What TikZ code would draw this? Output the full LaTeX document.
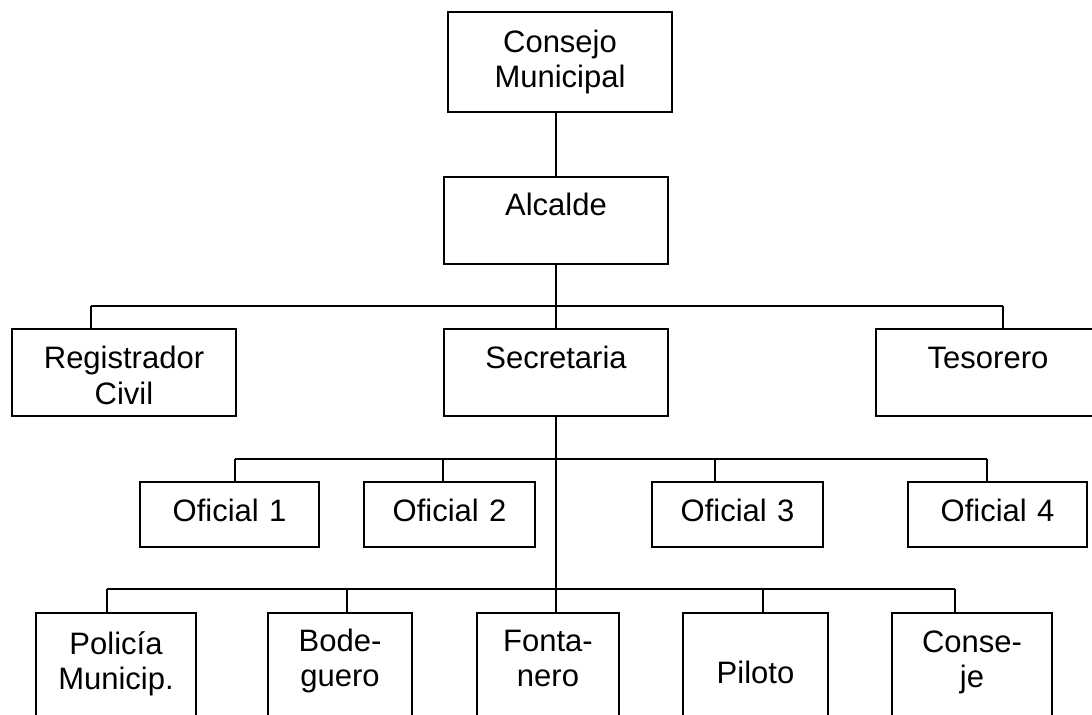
\documentclass[tikz,border=0pt]{standalone}
\usepackage{fontspec}
\setmainfont{Liberation Sans}
\usetikzlibrary{positioning}

\tikzset{
  orgbox/.style={draw, line width=1pt, anchor=north west, inner sep=0pt,
    align=center, font=\fontsize{15.5}{17.75}\selectfont},
  wire/.style={line width=1pt},
}

\begin{document}
\begin{tikzpicture}[x=0.5pt, y=-0.5pt]
  \useasboundingbox (0,0) rectangle (1092,715);
  \clip (0,0) rectangle (1092,715);

  % top
  \node[orgbox, text width=112pt, text height=20pt, text depth=30pt] (cm) at (447,11.5) {Consejo\\Municipal};
  \node[orgbox, text width=112pt, text height=19.5pt, text depth=24.25pt] (alc) at (443,176) {Alcalde};

  % second row
  \node[orgbox, text width=112pt, text height=20pt, text depth=23.5pt] (reg) at (11,328) {Registrador\\Civil};
  \node[orgbox, text width=112pt, text height=20pt, text depth=23.5pt] (sec) at (443,328) {Secretaria};
  \node[orgbox, text width=112pt, text height=20pt, text depth=23.5pt] (tes) at (875,328) {Tesorero};

  % oficiales
  \node[orgbox, text width=89.5pt, text height=20pt, text depth=12.5pt] (of1) at (139,481) {Oficial 1};
  \node[orgbox, text width=85.5pt, text height=20pt, text depth=12.5pt] (of2) at (363,481) {Oficial 2};
  \node[orgbox, text width=85.5pt, text height=20pt, text depth=12.5pt] (of3) at (651,481) {Oficial 3};
  \node[orgbox, text width=89.5pt, text height=20pt, text depth=12.5pt] (of4) at (907,481) {Oficial 4};

  % bottom row
  \node[orgbox, text width=80pt, text height=20.5pt, text depth=53.5pt] (pol) at (35,612) {Policía\\Municip.};
  \node[orgbox, text width=72pt, text height=19pt, text depth=55pt] (bod) at (267,612) {Bode-\\guero};
  \node[orgbox, text width=71pt, text height=19pt, text depth=55pt] (fon) at (476,612) {Fonta-\\nero};
  \node[orgbox, text width=72.5pt, text height=35pt, text depth=39pt] (pil) at (682,612) {Piloto};
  \node[orgbox, text width=80pt, text height=19.5pt, text depth=54.5pt] (con) at (891,612) {Conse-\\je};

  % bus points
  \coordinate (j-reg) at (90.7,306);
  \coordinate (j-tes) at (1003,306);
  \coordinate (j-of1) at (235,459);
  \coordinate (j-of2) at (443,459);
  \coordinate (j-of3) at (714.5,459);
  \coordinate (j-of4) at (987,459);
  \coordinate (j-pol) at (106.5,589);
  \coordinate (j-bod) at (347,589);
  \coordinate (j-pil) at (762.5,589);
  \coordinate (j-con) at (955,589);

  \draw[wire] (alc.north |- cm.south) -- (alc.north);
  \draw[wire] (alc) -- (sec);
  \draw[wire] (sec.south) -- (sec.south |- fon.north);

  \draw[wire] (j-reg) -- (j-tes);
  \draw[wire] (j-reg) -- (j-reg |- reg.north);
  \draw[wire] (j-tes) -- (j-tes |- tes.north);

  \draw[wire] (j-of1) -- (j-of4);
  \draw[wire] (j-of1) -- (j-of1 |- of1.north);
  \draw[wire] (j-of2) -- (j-of2 |- of2.north);
  \draw[wire] (j-of3) -- (j-of3 |- of3.north);
  \draw[wire] (j-of4) -- (j-of4 |- of4.north);

  \draw[wire] (j-pol) -- (j-con);
  \draw[wire] (j-pol) -- (j-pol |- pol.north);
  \draw[wire] (j-bod) -- (j-bod |- bod.north);
  \draw[wire] (j-pil) -- (j-pil |- pil.north);
  \draw[wire] (j-con) -- (j-con |- con.north);
\end{tikzpicture}
\end{document}
